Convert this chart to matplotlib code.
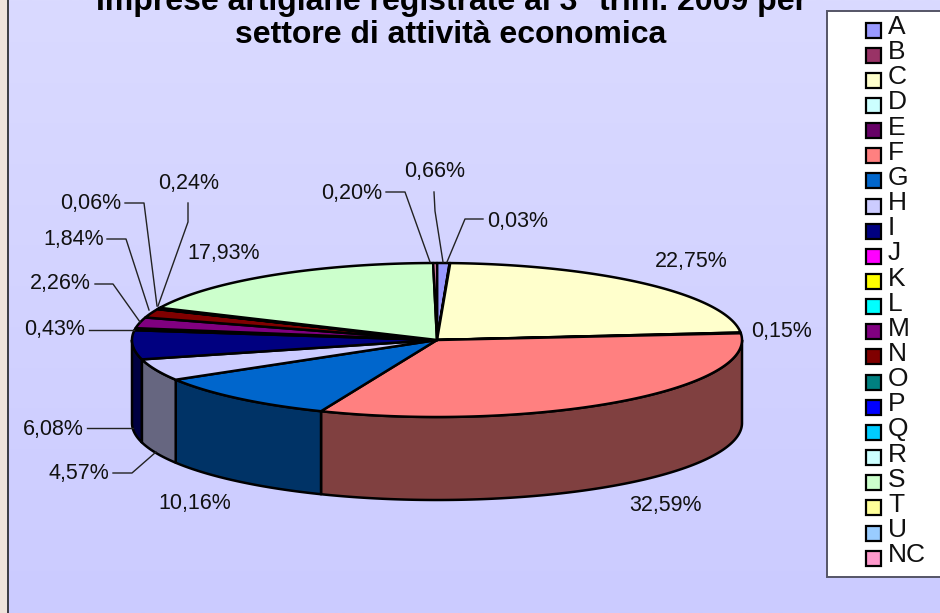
import numpy as np
import matplotlib
matplotlib.use('Agg')
import matplotlib.pyplot as plt
from matplotlib.patches import Polygon, Rectangle

plt.rcParams['font.family'] = ['Liberation Sans', 'DejaVu Sans']

# Dati
categorie = ['A', 'B', 'C', 'D', 'E', 'F', 'G', 'H', 'I', 'J', 'K', 'L', 'M', 'N',
             'O', 'P', 'Q', 'R', 'S', 'T', 'U', 'NC']
valori = [0.66, 0.03, 22.75, 0.15, 0, 32.59, 10.16, 4.57, 6.08, 0, 0, 0.43, 2.26, 1.84,
          0.06, 0, 0, 0.24, 17.93, 0, 0, 0.20]
colori = ['#9999FF', '#993366', '#FFFFCC', '#CCFFFF', '#660066', '#FF8080', '#0066CC',
          '#CCCCFF', '#000080', '#FF00FF', '#FFFF00', '#00FFFF', '#800080', '#800000',
          '#008080', '#0000FF', '#00CCFF', '#CCFFFF', '#CCFFCC', '#FFFF99', '#99CCFF',
          '#FF99CC']

# Posizione delle etichette (pixel), stesso ordine delle fette non nulle
etichette_pos = {
    'A': (435, 172), 'B': (518, 221), 'C': (691, 261), 'D': (782, 331),
    'F': (665, 506), 'G': (195, 503), 'H': (79, 473), 'I': (53, 429),
    'L': (55, 330), 'M': (60, 284), 'N': (74, 239), 'O': (91, 204),
    'R': (189, 184), 'S': (224, 253), 'NC': (352, 193),
}
linee_guida = {
    'A': [(434, 192), (435, 211), (443, 262)],
    'B': [(483, 219), (465, 219), (447, 262)],
    'NC': [(386, 192), (405, 192), (430, 262)],
    'R': [(188, 203), (188, 222), (158, 306)],
    'O': [(125, 203), (144, 203), (157, 306)],
    'N': [(107, 239), (126, 239), (149, 310)],
    'M': [(95, 284), (113, 284), (140, 322)],
    'L': [(89, 330), (134, 330)],
    'I': [(87, 428), (133, 428)],
    'H': [(113, 473), (132, 473), (156, 452)],
}

# Geometria della torta
cx, cy, rx, ry, spessore = 437, 340, 305, 77, 83


def bordo(a, b, dy=0):
    t = np.linspace(a, b, max(2, int(abs(b - a) * 2) + 2))
    return np.column_stack([cx + rx * np.sin(t * np.pi / 180),
                            cy - ry * np.cos(t * np.pi / 180) + dy])


def scurisci(c):
    r = matplotlib.colors.to_rgb(c)
    return tuple(v * 0.5 for v in r)


fig = plt.figure(figsize=(9.4, 6.13), dpi=100)
ax = fig.add_axes([0, 0, 1, 1])
ax.axis('off')

# Sfondo sfumato e striscia a sinistra
alto = np.array([218, 218, 255])
basso = np.array([203, 203, 255])
sfondo = np.linspace(0, 1, 256)[:, None, None] * (basso - alto) + alto
ax.imshow(sfondo / 255, extent=[7, 940, 613, 0], aspect='auto', zorder=0)
ax.set_xlim(0, 940)
ax.set_ylim(613, 0)
ax.add_patch(Rectangle((0, 0), 7, 613, fc='#EFE3DC', ec='none', zorder=1))
ax.plot([7.5, 7.5], [0, 613], color='#222222', lw=1.2, zorder=2)

# Angoli delle fette
fine = np.cumsum(valori) / sum(valori) * 360
inizio = np.concatenate([[0], fine[:-1]])

# Pareti laterali (solo la parte davanti)
for a, b, c, v in zip(inizio, fine, colori, valori):
    a2, b2 = max(a, 90), min(b, 270)
    if v == 0 or a2 >= b2:
        continue
    sopra = bordo(a2, b2)
    sotto = bordo(b2, a2, spessore)
    ax.add_patch(Polygon(np.vstack([sopra, sotto]), closed=True, fc=scurisci(c),
                         ec='black', lw=1.8, zorder=3, joinstyle='round'))

# Faccia superiore
for a, b, c, v in zip(inizio, fine, colori, valori):
    if v == 0:
        continue
    punti = np.vstack([[cx, cy], bordo(a, b)])
    ax.add_patch(Polygon(punti, closed=True, fc=c, ec='black', lw=1.8, zorder=4,
                         joinstyle='round'))

# Etichette e linee guida
for cat, v in zip(categorie, valori):
    if v == 0:
        continue
    x, y = etichette_pos[cat]
    testo = f'{v:.2f}%'.replace('.', ',')
    ax.text(x, y, testo, ha='center', va='center', fontsize=15.5, color='#111111', zorder=6)
    if cat in linee_guida:
        p = np.array(linee_guida[cat])
        ax.plot(p[:, 0], p[:, 1], color='#222222', lw=1.0, zorder=5)

# Titolo (la prima riga e' tagliata dal bordo, come nell'originale)
ax.text(451, 2, 'Imprese artigiane registrate al 3° trim. 2009 per', ha='center', va='center',
        fontsize=23, fontweight='bold', color='black', zorder=6)
ax.text(451, 35, 'settore di attività economica', ha='center', va='center',
        fontsize=23, fontweight='bold', color='black', zorder=6)

# Legenda
ax.add_patch(Rectangle((827, 11), 120, 565.5, fc='white', ec='#555566', lw=1.4, zorder=5))
for i, (cat, c) in enumerate(zip(categorie, colori)):
    yc = 30 + i * 25.15
    ax.add_patch(Rectangle((865.5, yc - 7.5), 15, 15, fc=c, ec='black', lw=1.6, zorder=6))
    ax.text(888, yc - 3, cat, ha='left', va='center', fontsize=19, color='#111111', zorder=6)

fig.savefig('out.png', dpi=100)
